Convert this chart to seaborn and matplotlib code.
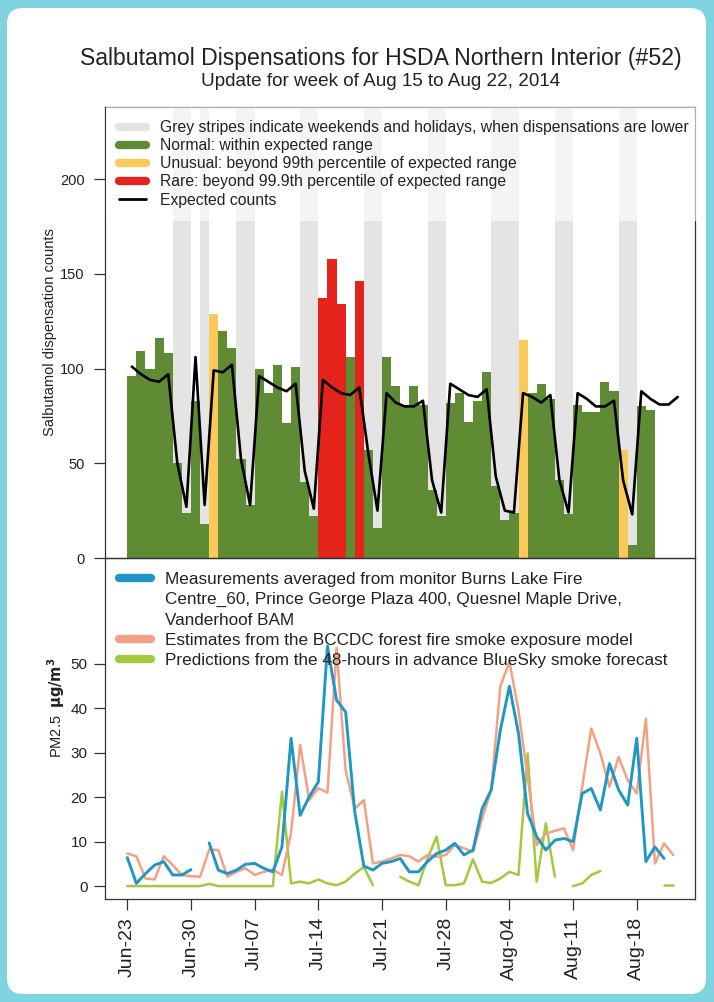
import numpy as np
import pandas as pd
import matplotlib
matplotlib.use("Agg")
import matplotlib.pyplot as plt
from matplotlib.lines import Line2D
from matplotlib.patches import FancyBboxPatch
import seaborn as sns

# ---------------------------------------------------------------- data
first_day = "2014-06-23"
last_day = "2014-08-22"
stat_holidays = ["2014-07-01", "2014-08-04"]
tick_labels = ["Jun-23", "Jun-30", "Jul-07", "Jul-14", "Jul-21",
               "Jul-28", "Aug-04", "Aug-11", "Aug-18"]

# daily salbutamol dispensations, Jun-23 .. Aug-19
counts = [96, 109, 100, 116, 108, 50, 24, 83, 18, 129,
          120, 111, 52, 28, 100, 87, 102, 71, 101, 40,
          22, 137, 158, 134, 106, 146, 57, 16, 106, 91,
          81, 91, 81, 36, 22, 82, 87, 72, 83, 98,
          38, 20, 24, 115, 87, 92, 84, 41, 23, 81,
          77, 77, 93, 88, 57, 7, 80, 78]
unusual_days = ["2014-07-02", "2014-08-05", "2014-08-16"]
rare_days = ["2014-07-14", "2014-07-15", "2014-07-16", "2014-07-18"]

# expected counts, Jun-23 .. Aug-22
expected = [101, 97, 94, 93, 97, 50, 27, 106, 28, 99,
            98, 102, 52, 28, 96, 93, 90, 88, 92, 46,
            26, 94, 90, 87, 86, 90, 55, 25, 87, 82,
            80, 80, 83, 41, 24, 92, 89, 86, 85, 89,
            43, 25, 24, 87, 85, 82, 86, 41, 24, 87,
            84, 80, 80, 83, 41, 23, 88, 84, 81, 81, 85]

nan = np.nan
# PM2.5 (ug/m3), Jun-23 .. Aug-22
pm_measured = [6.4, 0.6, 2.8, 4.7, 5.5, 2.5, 2.5, 3.7, nan, 9.7,
               3.6, 2.8, 3.6, 4.9, 5.1, 4.0, 3.2, 8.8, 33.2, 15.9,
               20.1, 23.4, 53.9, 41.8, 39.1, 16.7, 4.5, 3.6, 5.1, 5.5,
               6.2, 3.2, 3.2, 5.5, 7.3, 8.1, 9.6, 7.0, 8.1, 17.4,
               21.6, 35.0, 44.9, 34.3, 16.3, 11.1, 8.1, 10.3, 10.7, 10.0,
               20.8, 21.9, 17.1, 27.5, 21.6, 18.2, 33.2, 5.5, 8.8, 6.2, nan]
pm_model = [7.3, 6.7, 1.7, 1.5, 6.7, 4.7, 2.5, 2.2, 2.1, 8.2,
            8.1, 2.1, 3.2, 4.0, 2.5, 3.2, 3.7, 2.5, 12.0, 31.7,
            19.3, 22.0, 21.0, 53.5, 26.0, 17.4, 19.3, 5.1, 5.5, 6.2,
            7.0, 6.7, 5.5, 7.0, 6.6, 7.0, 9.2, 8.5, 7.7, 15.2,
            21.6, 44.8, 50.4, 39.5, 24.6, 9.2, 11.8, 12.4, 13.0, 8.1,
            22.3, 35.4, 29.8, 22.3, 29.0, 23.8, 20.8, 37.6, 5.1, 9.6, 7.0]
pm_bluesky = [0, 0, 0, 0, 0, 0, 0, 0, 0, 0.5,
              0, 0, 0, 0, 0, 0, 0, 21.2, 0.6, 1.0,
              0.6, 1.5, 0.6, 0.2, 1.0, 2.8, 4.3, 0.2, nan, nan,
              2.1, 1.0, 0.2, 6.2, 11.1, 0.2, 0.2, 0.6, 6.0, 1.0,
              0.7, 1.7, 3.2, 2.5, 29.8, 1.0, 14.1, 2.1, nan, 0.0,
              0.6, 2.5, 3.4, nan, nan, nan, nan, nan, nan, 0.2, 0.2]

# ---------------------------------------------------------------- frames
dates = pd.date_range(first_day, last_day, freq="D")
day = np.arange(len(dates))

bars = pd.DataFrame({"date": dates[:len(counts)], "count": counts})
bars["x"] = day[:len(counts)] + 0.5
bars["status"] = "normal"
bars.loc[bars["date"].isin(pd.to_datetime(unusual_days)), "status"] = "unusual"
bars.loc[bars["date"].isin(pd.to_datetime(rare_days)), "status"] = "rare"

off_days = day[(dates.dayofweek >= 5) | dates.isin(pd.to_datetime(stat_holidays))]
off_days = off_days[off_days < len(counts)]


def segments(values, name):
    """Long frame with a segment id so gaps stay open."""
    s = pd.Series(values, dtype=float)
    seg = s.isna().cumsum()
    df = pd.DataFrame({"x": day, "y": s, "seg": seg, "series": name})
    return df.dropna()


# ---------------------------------------------------------------- style
sns.set_theme(style="white")
plt.rcParams["font.family"] = ["Liberation Sans", "DejaVu Sans"]
plt.rcParams["axes.edgecolor"] = "#333333"
plt.rcParams["axes.linewidth"] = 0.9

C_GREEN = "#5E8B33"
C_YELLOW = "#FBC85A"
C_RED = "#E5231D"
C_GREY = "#E4E4E4"
C_BLUE = "#1E97C7"
C_SALMON = "#F3A083"
C_LIME = "#A3C93F"
C_TEXT = "#222222"

W, H = 714, 1002
fig = plt.figure(figsize=(W / 100, H / 100), dpi=100)
fig.patch.set_facecolor("#80D3E1")
card = FancyBboxPatch((0.07, 0.08), 6.99, 9.86,
                      boxstyle="round,pad=0,rounding_size=0.16",
                      transform=fig.dpi_scale_trans, facecolor="white",
                      edgecolor="none", zorder=-10)
fig.patches.append(card)

L, R = 105, 695
ax1 = fig.add_axes([L / W, 1 - 558 / H, (R - L) / W, (558 - 107) / H])
ax2 = fig.add_axes([L / W, 1 - 899 / H, (R - L) / W, (899 - 558) / H])
for ax in (ax1, ax2):
    ax.set_facecolor("none")

XLIM = (-2.45, 62.4)
TOP = 238

# ---------------------------------------------------------------- top panel
ax1.bar(off_days, TOP, width=1.0, align="edge", color=C_GREY, linewidth=0, zorder=0)
sns.barplot(data=bars, x="x", y="count", hue="status", native_scale=True,
            palette={"normal": C_GREEN, "unusual": C_YELLOW, "rare": C_RED},
            width=1.0, dodge=False, saturation=1, errorbar=None, legend=False,
            linewidth=0, ax=ax1, zorder=1)
sns.lineplot(x=day + 0.5, y=expected, color="black", linewidth=1.9, ax=ax1, zorder=3)

ax1.set_xlim(*XLIM)
ax1.set_ylim(0, TOP)
ax1.set_yticks([0, 50, 100, 150, 200])
ax1.set_xticks([])
ax1.set_xlabel("")
ax1.set_ylabel("Salbutamol dispensation counts", fontsize=10.5, color=C_TEXT)
ax1.yaxis.set_label_coords((57 - L) / (R - L), 0.50)
ax1.tick_params(axis="y", left=True, direction="out", length=8, width=0.9, pad=6.5,
                colors="#333333", labelsize=10.5, labelcolor=C_TEXT)

top_handles = [
    Line2D([], [], color=C_GREY, lw=6, solid_capstyle="round"),
    Line2D([], [], color=C_GREEN, lw=6, solid_capstyle="round"),
    Line2D([], [], color=C_YELLOW, lw=6, solid_capstyle="round"),
    Line2D([], [], color=C_RED, lw=6, solid_capstyle="round"),
    Line2D([], [], color="black", lw=2),
]
top_labels = [
    "Grey stripes indicate weekends and holidays, when dispensations are lower",
    "Normal: within expected range",
    "Unusual: beyond 99th percentile of expected range",
    "Rare: beyond 99.9th percentile of expected range",
    "Expected counts",
]
leg1 = ax1.legend(top_handles, top_labels, loc="upper left",
                  bbox_to_anchor=(1 / (R - L), 1), borderaxespad=0,
                  frameon=True, facecolor="white", framealpha=0.62,
                  edgecolor="none", fancybox=False, fontsize=11.3, handlelength=1.72,
                  handletextpad=0.9, labelspacing=0.2, borderpad=0.83)
for t in leg1.get_texts():
    t.set_color(C_TEXT)

# ---------------------------------------------------------------- bottom panel
pm = pd.concat([segments(pm_measured, "measured"),
                segments(pm_model, "model"),
                segments(pm_bluesky, "bluesky")])
for name, col, lw in [("bluesky", C_LIME, 1.8), ("model", C_SALMON, 1.8),
                      ("measured", C_BLUE, 2.1)]:
    sns.lineplot(data=pm[pm["series"] == name], x="x", y="y", units="seg",
                 estimator=None, color=col, linewidth=lw, ax=ax2)

ax2.set_xlim(*XLIM)
ax2.set_ylim(-2.9, 73.7)
ax2.set_yticks([0, 10, 20, 30, 40, 50])
ax2.set_xticks(np.arange(0, 57, 7))
ax2.set_xticklabels(tick_labels, rotation=90)
ax2.set_xlabel("")
ax2.set_ylabel("PM2.5  $\\mathbf{\\mu g/m^3}$", fontsize=10.5, color=C_TEXT)
ax2.yaxis.set_label_coords((67 - L) / (R - L), 0.56)
ax2.tick_params(axis="y", left=True, direction="out", length=8, width=0.9, pad=4.5,
                colors="#333333", labelsize=11, labelcolor=C_TEXT)
ax2.tick_params(axis="x", bottom=True, direction="out", length=8, width=0.9, pad=5,
                colors="#333333", labelsize=14, labelcolor=C_TEXT)

blank = Line2D([], [], color="none")
bot_handles = [Line2D([], [], color=C_BLUE, lw=6, solid_capstyle="round"), blank, blank,
               Line2D([], [], color=C_SALMON, lw=6, solid_capstyle="round"),
               Line2D([], [], color=C_LIME, lw=6, solid_capstyle="round")]
bot_labels = ["Measurements averaged from monitor Burns Lake Fire",
              "Centre_60, Prince George Plaza 400, Quesnel Maple Drive,",
              "Vanderhoof BAM",
              "Estimates from the BCCDC forest fire smoke exposure model",
              "Predictions from the 48-hours in advance BlueSky smoke forecast"]
leg2 = ax2.legend(bot_handles, bot_labels, loc="upper left",
                  bbox_to_anchor=(0, 1), borderaxespad=0,
                  frameon=False, fontsize=12.3, handlelength=1.87,
                  handletextpad=0.82, labelspacing=0.30, borderpad=0.83)
for t in leg2.get_texts():
    t.set_color(C_TEXT)

# ---------------------------------------------------------------- titles
fig.text(381 / W, 1 - 58 / H, "Salbutamol Dispensations for HSDA Northern Interior (#52)",
         ha="center", va="center", fontsize=16.6, color=C_TEXT)
fig.text(381 / W, 1 - 82 / H, "Update for week of Aug 15 to Aug 22, 2014",
         ha="center", va="center", fontsize=13.6, color=C_TEXT)

fig.savefig("out.png", dpi=100, facecolor=fig.get_facecolor())
